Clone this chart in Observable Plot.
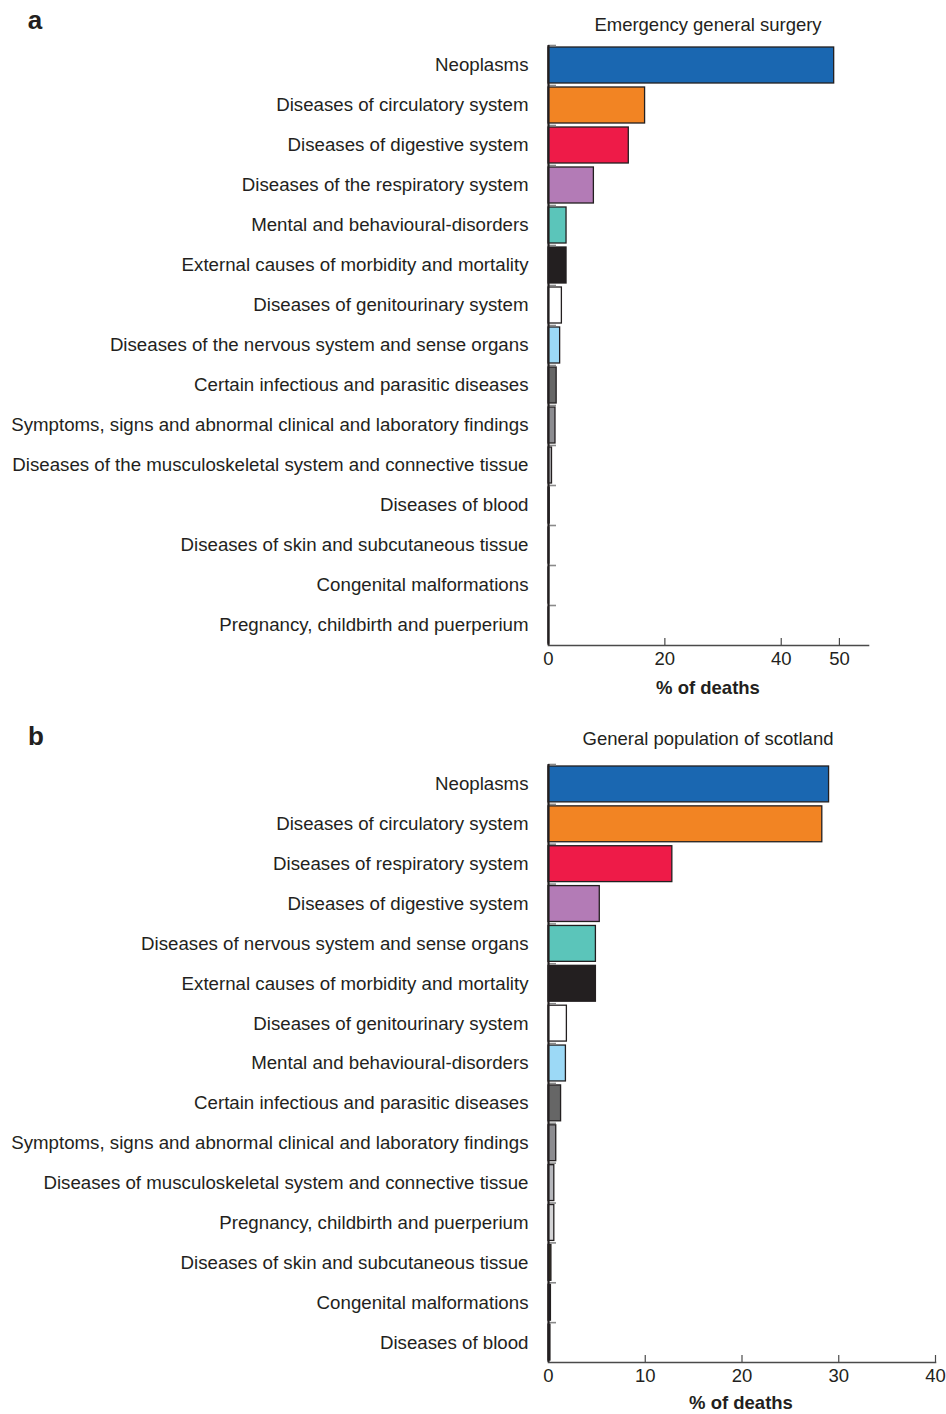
<!DOCTYPE html>
<html>
<head>
<meta charset="utf-8">
<script src="https://cdn.jsdelivr.net/npm/d3@7"></script>
<script src="https://cdn.jsdelivr.net/npm/@observablehq/plot@0.6"></script>
<style>
  body { margin: 0; background: #fff; font-family: "Liberation Sans", Arial, sans-serif; color: #231f20; }
  #page { position: relative; width: 946px; height: 1414px; overflow: hidden; }
  .abs { position: absolute; white-space: nowrap; transform: translate(-50%, -50%); z-index: 5; line-height: 1; }
  .panel { position: absolute; left: 0; z-index: 1; line-height: 0; }
  .letter { font-weight: bold; font-size: 26px; }
  .title { font-size: 18.5px; }
  .xlab { font-weight: bold; font-size: 18.5px; }
</style>
</head>
<body>
<div id="page">
  <div class="panel" id="pa" style="top:0px;"></div>
  <div class="panel" id="pb" style="top:716px;"></div>

  <div class="abs letter" style="left:35px; top:20px;">a</div>
  <div class="abs title" style="left:708px; top:25px;">Emergency general surgery</div>
  <div class="abs xlab" style="left:708px; top:688px;">% of deaths</div>

  <div class="abs letter" style="left:36px; top:736px;">b</div>
  <div class="abs title" style="left:708px; top:739px;">General population of scotland</div>
  <div class="abs xlab" style="left:741px; top:1403px;">% of deaths</div>
</div>
<script>
// ---- Panel a: Emergency general surgery ----
const catsA = [
  "Neoplasms",
  "Diseases of circulatory system",
  "Diseases of digestive system",
  "Diseases of the respiratory system",
  "Mental and behavioural-disorders",
  "External causes of morbidity and mortality",
  "Diseases of genitourinary system",
  "Diseases of the nervous system and sense organs",
  "Certain infectious and parasitic diseases",
  "Symptoms, signs and abnormal clinical and laboratory findings",
  "Diseases of the musculoskeletal system and connective tissue",
  "Diseases of blood",
  "Diseases of skin and subcutaneous tissue",
  "Congenital malformations",
  "Pregnancy, childbirth and puerperium"
];
const valsA = [49.1, 16.6, 13.8, 7.8, 3.1, 3.1, 2.3, 2.0, 1.4, 1.2, 0.6, 0.2, 0.15, 0.1, 0.1];
const colorsA = ["#1a67b1","#f28423","#ee1b48","#b37bb6","#5bc5ba","#231f20","#ffffff","#9cd9f6","#666666","#8c8c90","#b7b7ba","#231f20","#231f20","#231f20","#231f20"];
const ticksA = [0, 20, 40, 50];
const domainA = [0, 55];

// ---- Panel b: General population of Scotland ----
const catsB = [
  "Neoplasms",
  "Diseases of circulatory system",
  "Diseases of respiratory system",
  "Diseases of digestive system",
  "Diseases of nervous system and sense organs",
  "External causes of morbidity and mortality",
  "Diseases of genitourinary system",
  "Mental and behavioural-disorders",
  "Certain infectious and parasitic diseases",
  "Symptoms, signs and abnormal clinical and laboratory findings",
  "Diseases of musculoskeletal system and connective tissue",
  "Pregnancy, childbirth and puerperium",
  "Diseases of skin and subcutaneous tissue",
  "Congenital malformations",
  "Diseases of blood"
];
const valsB = [29.0, 28.3, 12.8, 5.3, 4.9, 4.9, 1.9, 1.8, 1.3, 0.8, 0.6, 0.6, 0.3, 0.25, 0.2];
const colorsB = ["#1a67b1","#f28423","#ee1b48","#b37bb6","#5bc5ba","#231f20","#ffffff","#9cd9f6","#666666","#8c8c90","#b6b7bc","#d4d4d6","#3b3620","#1f2030","#231f20"];
const ticksB = [0, 10, 20, 30, 40];
const domainB = [0, 40];

function panel({cats, vals, colors, ticks, domain, height, marginTop, marginBottom, marginRight, leftTickPx}) {
  const data = cats.map((c, i) => ({cat: c, value: vals[i], color: colors[i]}));
  const marginLeft = 548;
  const width = 946;
  const frameH = height - marginTop - marginBottom;
  const step = frameH / cats.length;
  const pxPerUnit = (width - marginLeft - marginRight) / (domain[1] - domain[0]);
  return Plot.plot({
    width, height, marginLeft, marginRight, marginTop, marginBottom,
    style: {fontFamily: "Liberation Sans, Arial, sans-serif", fontSize: "18.7px", color: "#231f20", background: "#fff"},
    x: {domain, range: [marginLeft, width - marginRight]},
    y: {domain: cats, paddingInner: 0.1, paddingOuter: 0.05, round: false},
    marks: [
      Plot.barX(data, {x: "value", y: "cat", fill: "color", stroke: "#231f20", strokeWidth: 1.3}),
      Plot.ruleY(cats, {y: d => d, x1: 0, x2: leftTickPx / pxPerUnit, dy: -step / 2, stroke: "#8a8a8a", strokeWidth: 1.6}),
      Plot.ruleX([0], {stroke: "#231f20", strokeWidth: 2.2}),
      Plot.frame({anchor: "bottom", stroke: "#4a4a4a", strokeWidth: 1.6}),
      Plot.ruleX(ticks.filter(t => t > 0), {insetTop: frameH - 7, stroke: "#4a4a4a", strokeWidth: 1.2}),
      Plot.axisY({tickSize: 0, tickPadding: 20, fontSize: 18.7, label: null, fill: "#231f20"}),
      Plot.axisX({ticks, tickSize: 0, tickPadding: 6, fontSize: 18.5, label: null, fill: "#231f20", tickFormat: d => String(d)})
    ]
  });
}

document.getElementById("pa").append(panel({
  cats: catsA, vals: valsA, colors: colorsA, ticks: ticksA, domain: domainA,
  height: 700, marginTop: 45, marginBottom: 55, marginRight: 946 - 868, leftTickPx: 8
}));
document.getElementById("pb").append(panel({
  cats: catsB, vals: valsB, colors: colorsB, ticks: ticksB, domain: domainB,
  height: 698, marginTop: 48, marginBottom: 52, marginRight: 11, leftTickPx: 8
}));
</script>
</body>
</html>
